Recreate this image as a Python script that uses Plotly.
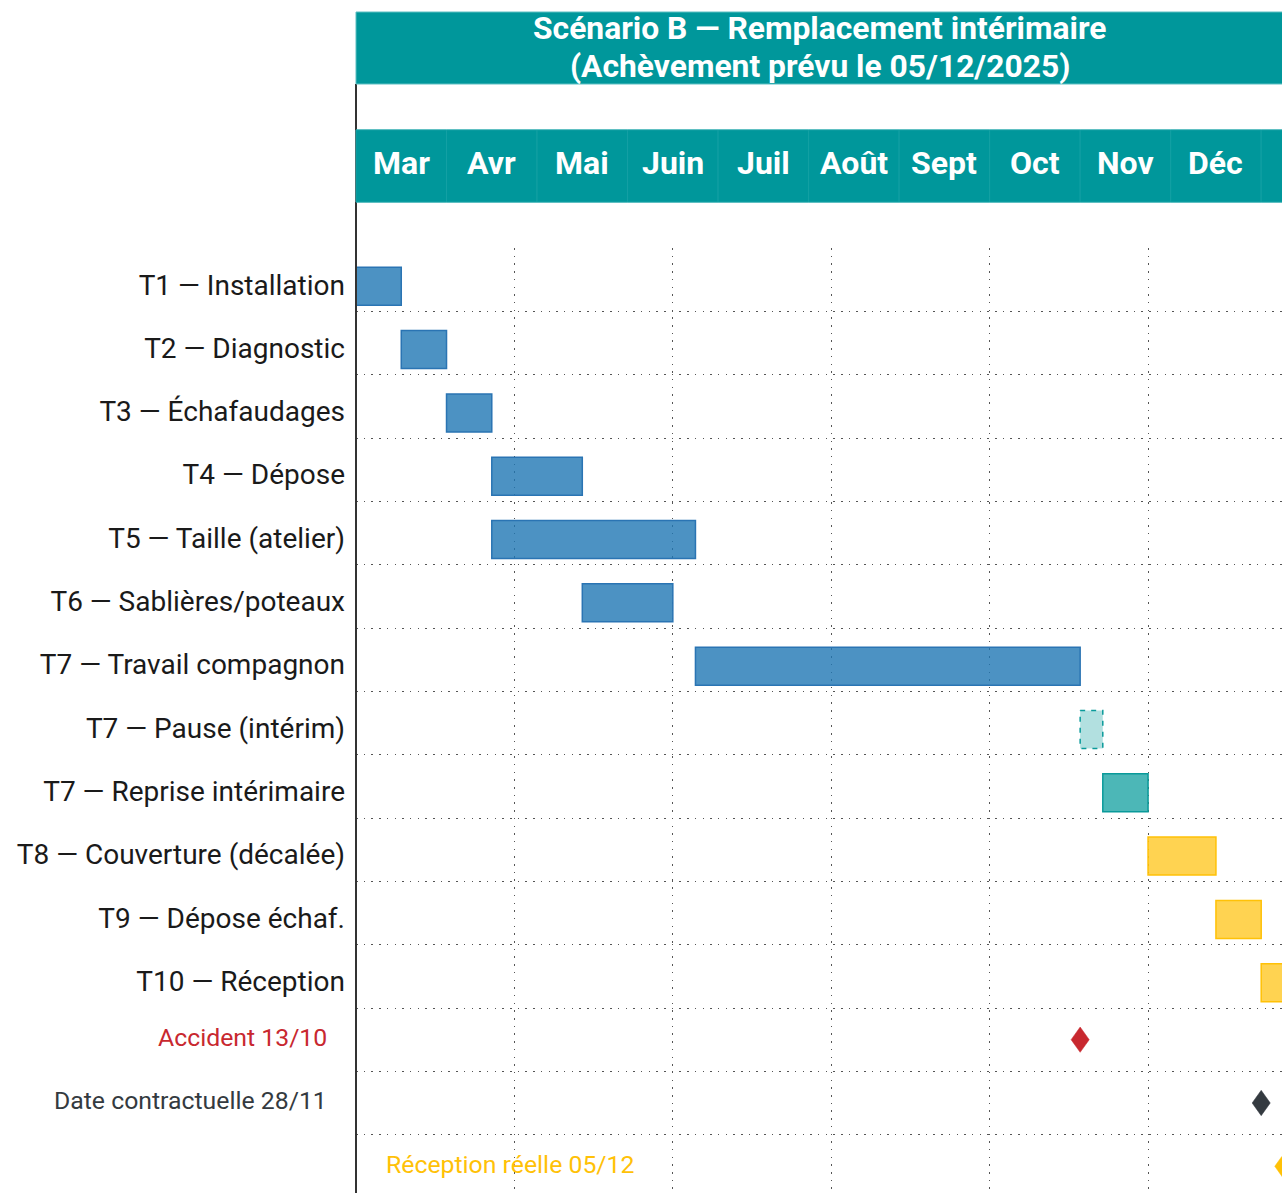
import plotly.graph_objects as go

# ---------------- data ----------------
row_labels = [
    "T1 — Installation", "T2 — Diagnostic", "T3 — Échafaudages", "T4 — Dépose",
    "T5 — Taille (atelier)", "T6 — Sablières/poteaux", "T7 — Travail compagnon",
    "T7 — Pause (intérim)", "T7 — Reprise intérimaire", "T8 — Couverture (décalée)",
    "T9 — Dépose échaf.", "T10 — Réception",
]
# start / end in weeks from 03/03/2025
task_start = [0, 2, 4, 6, 6, 10, 15, 32, 33, 35, 38, 40]
task_end = [2, 4, 6, 10, 15, 14, 32, 33, 35, 38, 40, 42]
task_kind = ["base"] * 7 + ["pause", "interim", "late", "late", "late"]

milestone_labels = ["Accident 13/10", "Date contractuelle 28/11", "Réception réelle 05/12"]
milestone_week = [32, 40, 41]
milestone_colors = ["#C8282F", "#343A40", "#FFC107"]

month_labels = ["Mar", "Avr", "Mai", "Juin", "Juil", "Août", "Sept", "Oct", "Nov", "Déc"]
weeks_per_month = 4

title_lines = ["Scénario B — Remplacement intérimaire", "(Achèvement prévu le 05/12/2025)"]

# ---------------- styles ----------------
TEAL = "#00979B"
TEAL_LIGHT = "#5DBFC2"
FONT = "Roboto"
kind_style = {
    "base": dict(fill="rgba(31,119,180,0.8)", line="#2A74B3"),
    "pause": dict(fill="rgba(0,153,153,0.3)", line="rgba(0,0,0,0)"),
    "interim": dict(fill="rgba(0,153,153,0.7)", line="#0A9A9A"),
    "late": dict(fill="rgba(255,193,7,0.7)", line="#FFC107"),
}
BAR_SHIFT = 0.1     # task bars sit slightly below row centre
LABEL_SHIFT = 0.075

n_rows = len(row_labels) + len(milestone_labels)

W, H = 1284, 1200
M_L, M_R, M_T, M_B = 356, 0, 248, 0
plot_h = H - M_T - M_B
plot_w = W - M_L - M_R
ROW_PX = 63.33
WEEK_PX = 22.63
Y_BOTTOM = -0.5 + plot_h / ROW_PX
X_MAX = plot_w / WEEK_PX


def py(fig_y):
    """figure pixel y -> paper y"""
    return (H - M_B - fig_y) / plot_h


fig = go.Figure()

for kind in ["base", "pause", "interim", "late"]:
    idx = [i for i, k in enumerate(task_kind) if k == kind]
    st = kind_style[kind]
    fig.add_trace(go.Bar(
        orientation="h",
        y=[i + BAR_SHIFT for i in idx],
        base=[task_start[i] for i in idx],
        x=[task_end[i] - task_start[i] for i in idx],
        width=0.6,
        marker=dict(color=st["fill"], line=dict(color=st["line"], width=1.5)),
        showlegend=False, hoverinfo="skip",
    ))

# dashed outline of the pause bar
for i, k in enumerate(task_kind):
    if k == "pause":
        x0, x1 = task_start[i], task_end[i]
        c = i + BAR_SHIFT
        fig.add_trace(go.Scatter(
            x=[x0, x1, x1, x0, x0], y=[c - 0.3, c - 0.3, c + 0.3, c + 0.3, c - 0.3],
            mode="lines", line=dict(color="#0A9A9A", width=1.5, dash="5px,6px"),
            showlegend=False, hoverinfo="skip",
        ))

# milestone diamonds
for j, (wk, col) in enumerate(zip(milestone_week, milestone_colors)):
    r = len(row_labels) + j
    hw, hh = 0.4, 0.2
    fig.add_trace(go.Scatter(
        x=[wk, wk + hw, wk, wk - hw, wk], y=[r - hh, r, r + hh, r, r - hh],
        mode="lines", fill="toself", fillcolor=col, line=dict(color=col, width=0.5),
        showlegend=False, hoverinfo="skip",
    ))

grid_col = "#555555"
fig.update_xaxes(
    range=[0, X_MAX], showticklabels=False, ticks="",
    showgrid=True, tick0=0, dtick=7, griddash="1.5px,6.2px", gridcolor=grid_col, gridwidth=1.2,
    zeroline=False, showline=False, fixedrange=True,
)
fig.update_yaxes(
    range=[Y_BOTTOM, -0.505], autorange=False,
    tickmode="array", tickvals=[i + LABEL_SHIFT for i in range(len(row_labels))], ticktext=row_labels,
    tickfont=dict(family=FONT, size=28, color="#1A1A1A"),
    ticks="", showgrid=False, zeroline=False, showline=False,
    minor=dict(tickmode="array", tickvals=[i - 0.5 for i in range(n_rows + 1)],
               showgrid=True, griddash="1.5px,6.2px", gridcolor=grid_col, gridwidth=1.2, ticks=""),
    ticklabelstandoff=10,
)

shapes = []
# left vertical line
shapes.append(dict(type="line", xref="paper", yref="paper", x0=0, x1=0, y0=0, y1=py(84),
                   line=dict(color="#333333", width=2)))
# title band
shapes.append(dict(type="rect", xref="paper", yref="paper", x0=0, x1=1.01, y0=py(84), y1=py(12),
                   fillcolor=TEAL, line=dict(color=TEAL_LIGHT, width=1)))
# month band
shapes.append(dict(type="rect", xref="paper", yref="paper", x0=0, x1=1.01, y0=py(202), y1=py(130),
                   fillcolor=TEAL, line=dict(color=TEAL_LIGHT, width=1)))
for m in range(len(month_labels) + 1):
    shapes.append(dict(type="rect", xref="x", yref="paper",
                       x0=m * weeks_per_month, x1=(m + 1) * weeks_per_month,
                       y0=py(202), y1=py(130),
                       fillcolor=TEAL, line=dict(color="#14A0A4", width=1)))

annotations = []
for k, (line, yy) in enumerate(zip(title_lines, [28, 66])):
    annotations.append(dict(
        text="<b>" + line + "</b>", xref="x", yref="paper", x=41 / 2, y=py(yy),
        xanchor="center", yanchor="middle", showarrow=False,
        font=dict(family=FONT, size=31.8, color="white"),
    ))
for m, lab in enumerate(month_labels):
    annotations.append(dict(
        text="<b>" + lab + "</b>", xref="x", yref="paper", x=m * weeks_per_month + weeks_per_month / 2,
        y=py(163), xanchor="center", yanchor="middle", showarrow=False,
        font=dict(family=FONT, size=32, color="white"),
    ))
for j, (lab, col) in enumerate(zip(milestone_labels, milestone_colors)):
    r = len(row_labels) + j
    last = j == len(milestone_labels) - 1
    annotations.append(dict(
        text=lab, xref="paper", yref="y", x=0, y=r,
        xanchor="left" if last else "right", xshift=28 if last else -27, yshift=2,
        showarrow=False, font=dict(family=FONT, size=24.8, color=col),
    ))

fig.update_layout(
    width=W, height=H,
    margin=dict(l=M_L, r=M_R, t=M_T, b=M_B, pad=0),
    paper_bgcolor="white", plot_bgcolor="white",
    barmode="overlay", showlegend=False,
    shapes=shapes, annotations=annotations,
    font=dict(family=FONT),
)

# the chart fills the page from its top-left corner and is cropped by the window edges
fig.write_html(
    "out.html",
    config={"displayModeBar": False},
    post_script="document.body.style.margin = '0'; document.body.style.overflow = 'hidden';",
)
